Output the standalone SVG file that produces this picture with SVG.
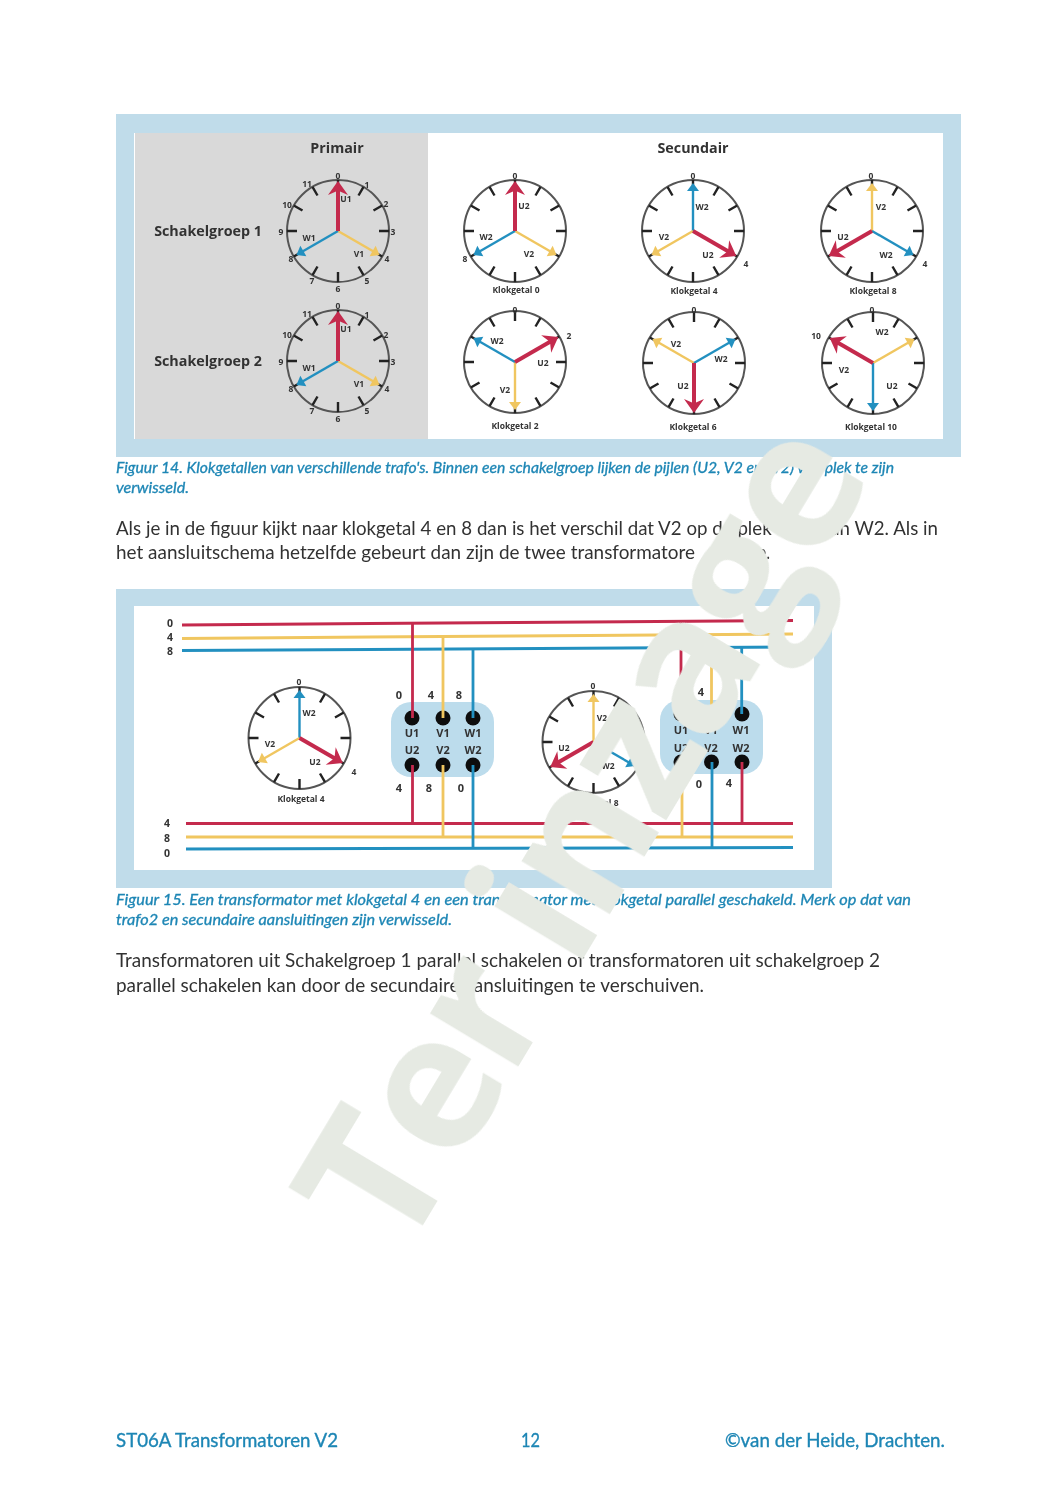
<svg xmlns="http://www.w3.org/2000/svg" width="1061" height="1500" viewBox="0 0 1061 1500">
<style>
text{font-family:"Open Sans","DejaVu Sans",sans-serif;fill:#333}
.s{font-size:8.5px;font-weight:700;text-anchor:middle;dominant-baseline:central}
.k{font-size:8.5px;font-weight:700;text-anchor:middle;dominant-baseline:central}
.h{font-size:14.3px;font-weight:700;text-anchor:middle;dominant-baseline:central}
.t{font-size:11px;font-weight:700;text-anchor:middle;dominant-baseline:central}
.l{font-size:10.5px;font-weight:700;text-anchor:middle;dominant-baseline:central}
.b{font-family:Lato,"Open Sans",sans-serif;font-size:19px;fill:#333}
.c{font-family:Lato,"Open Sans",sans-serif;font-size:15px;font-style:italic;fill:#1d86b5;stroke:#1d86b5;stroke-width:.3}
.f{font-family:Lato,"Open Sans",sans-serif;font-size:19px;fill:#1d86b5;stroke:#1d86b5;stroke-width:.35}
.wm{font-family:"Open Sans",sans-serif;font-weight:700;font-size:189px;letter-spacing:-5px;fill:#e6eae3}
.R{stroke:#c42a4d;fill:none}.Y{stroke:#f0c660;fill:none}.B{stroke:#2490c0;fill:none}
.w{stroke-width:3}.e{stroke-width:2.8}
.dot{fill:#111}
</style>
<defs>
<filter id="soft" x="-2%" y="-2%" width="104%" height="104%"><feGaussianBlur stdDeviation="0.75"/></filter>
<g id="face">
<circle r="51" fill="none" stroke="#555" stroke-width="2"/>
<path stroke="#222" stroke-width="2.4" d="M0-51V-41M25.500-44.200L20.500-35.500M44.200-25.500L35.500-20.500M51 0H41M44.200 25.500L35.500 20.500M25.500 44.200L20.500 35.500M0 51V41M-25.500 44.200L-20.500 35.500M-44.200 25.500L-35.500 20.500M-51 0H-41M-44.200-25.500L-35.500-20.500M-25.500-44.200L-20.500-35.500"/>
</g>
<g id="ra"><path d="M0 0V-42" stroke="#c42a4d" stroke-width="4"/><path d="M0-50L10-36L2-39.500H-2L-10-36Z" fill="#c42a4d"/></g>
<g id="ya"><path d="M0 0V-42" stroke="#f0c660" stroke-width="2.400"/><path d="M0-48L6-40H-6Z" fill="#f0c660"/></g>
<g id="ba"><path d="M0 0V-42" stroke="#2490c0" stroke-width="2.400"/><path d="M0-48L6-40H-6Z" fill="#2490c0"/></g>
</defs>

<g filter="url(#soft)">
<g id="figure14">
<rect x="116" y="114" width="845" height="343" fill="#c0dcea"/>
<rect x="134" y="133" width="809" height="306" fill="#fff"/>
<rect x="135" y="133" width="293" height="306" fill="#d9d9d9"/>
<text class="h" x="337" y="147">Primair</text>
<text class="h" x="693" y="147">Secundair</text>
<text class="h" x="208" y="230">Schakelgroep 1</text>
<text class="h" x="208" y="360">Schakelgroep 2</text>
</g>

<g id="prim1">
<use href="#face" transform="translate(338 231)"/>
<use href="#ya" transform="translate(338 231) rotate(120)"/><use href="#ba" transform="translate(338 231) rotate(240)"/><use href="#ra" transform="translate(338 231)"/>
<text class="s" x="346" y="198">U1</text><text class="s" x="309" y="237">W1</text><text class="s" x="359" y="253">V1</text>
<text class="s" x="338" y="175">0</text><text class="s" x="367" y="184">1</text><text class="s" x="386" y="203">2</text><text class="s" x="393" y="231">3</text><text class="s" x="387" y="258">4</text><text class="s" x="367" y="280">5</text><text class="s" x="338" y="288">6</text><text class="s" x="312" y="280">7</text><text class="s" x="291" y="258">8</text><text class="s" x="281" y="231">9</text><text class="s" x="287" y="204">10</text><text class="s" x="307" y="183">11</text>
</g>
<g id="prim2">
<use href="#face" transform="translate(338 361)"/>
<use href="#ya" transform="translate(338 361) rotate(120)"/><use href="#ba" transform="translate(338 361) rotate(240)"/><use href="#ra" transform="translate(338 361)"/>
<text class="s" x="346" y="328">U1</text><text class="s" x="309" y="367">W1</text><text class="s" x="359" y="383">V1</text>
<text class="s" x="338" y="305">0</text><text class="s" x="367" y="314">1</text><text class="s" x="386" y="334">2</text><text class="s" x="393" y="361">3</text><text class="s" x="387" y="388">4</text><text class="s" x="367" y="410">5</text><text class="s" x="338" y="418">6</text><text class="s" x="312" y="410">7</text><text class="s" x="291" y="388">8</text><text class="s" x="281" y="361">9</text><text class="s" x="287" y="334">10</text><text class="s" x="307" y="313">11</text>
</g>

<g id="klok0">
<use href="#face" transform="translate(515 231)"/>
<use href="#ya" transform="translate(515 231) rotate(120)"/><use href="#ba" transform="translate(515 231) rotate(240)"/><use href="#ra" transform="translate(515 231)"/>
<text class="s" x="524" y="205">U2</text><text class="s" x="486" y="236">W2</text><text class="s" x="529" y="253">V2</text>
<text class="s" x="515" y="175">0</text><text class="s" x="465" y="258">8</text><text class="k" x="516" y="289">Klokgetal 0</text>
</g>
<g id="klok4">
<use href="#face" transform="translate(693 231)"/>
<use href="#ba" transform="translate(693 231)"/><use href="#ya" transform="translate(693 231) rotate(240)"/><use href="#ra" transform="translate(693 231) rotate(120)"/>
<text class="s" x="702" y="206">W2</text><text class="s" x="664" y="236">V2</text><text class="s" x="708" y="254">U2</text>
<text class="s" x="693" y="175">0</text><text class="s" x="746" y="263">4</text><text class="k" x="694" y="290">Klokgetal 4</text>
</g>
<g id="klok8">
<use href="#face" transform="translate(872 231)"/>
<use href="#ya" transform="translate(872 231)"/><use href="#ba" transform="translate(872 231) rotate(120)"/><use href="#ra" transform="translate(872 231) rotate(240)"/>
<text class="s" x="881" y="206">V2</text><text class="s" x="843" y="236">U2</text><text class="s" x="886" y="254">W2</text>
<text class="s" x="871" y="175">0</text><text class="s" x="925" y="263">4</text><text class="k" x="873" y="290">Klokgetal 8</text>
</g>
<g id="klok2">
<use href="#face" transform="translate(515 362)"/>
<use href="#ya" transform="translate(515 362) rotate(180)"/><use href="#ba" transform="translate(515 362) rotate(300)"/><use href="#ra" transform="translate(515 362) rotate(60)"/>
<text class="s" x="497" y="340">W2</text><text class="s" x="543" y="362">U2</text><text class="s" x="505" y="389">V2</text>
<text class="s" x="515" y="309">0</text><text class="s" x="569" y="335">2</text><text class="k" x="515" y="425">Klokgetal 2</text>
</g>
<g id="klok6">
<use href="#face" transform="translate(694 363)"/>
<use href="#ya" transform="translate(694 363) rotate(300)"/><use href="#ba" transform="translate(694 363) rotate(60)"/><use href="#ra" transform="translate(694 363) rotate(180)"/>
<text class="s" x="676" y="343">V2</text><text class="s" x="721" y="358">W2</text><text class="s" x="683" y="385">U2</text>
<text class="s" x="694" y="309">0</text><text class="k" x="693" y="426">Klokgetal 6</text>
</g>
<g id="klok10">
<use href="#face" transform="translate(873 363)"/>
<use href="#ya" transform="translate(873 363) rotate(60)"/><use href="#ba" transform="translate(873 363) rotate(180)"/><use href="#ra" transform="translate(873 363) rotate(300)"/>
<text class="s" x="882" y="331">W2</text><text class="s" x="844" y="369">V2</text><text class="s" x="892" y="385">U2</text>
<text class="s" x="872" y="309">0</text><text class="s" x="816" y="335">10</text><text class="k" x="871" y="426">Klokgetal 10</text>
</g>

<g id="figure15">
<rect x="116" y="589" width="716" height="299" fill="#c0dcea"/>
<rect x="134" y="606" width="680" height="264" fill="#fff"/>
<text class="l" x="170" y="623">0</text><text class="l" x="170" y="637">4</text><text class="l" x="170" y="651">8</text>
<text class="l" x="167" y="823">4</text><text class="l" x="167" y="838">8</text><text class="l" x="167" y="853">0</text>
</g>

<g id="klemmen1">
<rect x="391" y="702" width="103" height="75" rx="20" fill="#bcdcec"/>
<circle class="dot" cx="412" cy="718" r="7.5"/><circle class="dot" cx="443" cy="718" r="7.5"/><circle class="dot" cx="473" cy="718" r="7.5"/>
<circle class="dot" cx="412" cy="765" r="7.5"/><circle class="dot" cx="443" cy="765" r="7.5"/><circle class="dot" cx="473" cy="765" r="7.5"/>
<text class="t" x="412" y="732">U1</text><text class="t" x="443" y="732">V1</text><text class="t" x="473" y="732">W1</text>
<text class="t" x="412" y="749">U2</text><text class="t" x="443" y="749">V2</text><text class="t" x="473" y="749">W2</text>
<text class="t" x="399" y="694">0</text><text class="t" x="431" y="694">4</text><text class="t" x="459" y="694">8</text>
<text class="t" x="399" y="787">4</text><text class="t" x="429" y="787">8</text><text class="t" x="461" y="787">0</text>
</g>
<g id="klemmen2">
<rect x="660" y="700" width="103" height="74" rx="20" fill="#bcdcec"/>
<circle class="dot" cx="681" cy="714" r="7.5"/><circle class="dot" cx="711.500" cy="714" r="7.5"/><circle class="dot" cx="742" cy="714" r="7.5"/>
<circle class="dot" cx="681" cy="762" r="7.5"/><circle class="dot" cx="711.500" cy="762" r="7.5"/><circle class="dot" cx="742" cy="762" r="7.5"/>
<text class="t" x="681" y="729">U1</text><text class="t" x="711" y="729">V1</text><text class="t" x="741" y="729">W1</text>
<text class="t" x="681" y="747">U2</text><text class="t" x="711" y="747">V2</text><text class="t" x="741" y="747">W2</text>
<text class="t" x="701" y="691">4</text><text class="t" x="730" y="692">8</text>
<text class="t" x="670" y="784">8</text><text class="t" x="699" y="783">0</text><text class="t" x="729" y="782">4</text>
</g>

<g id="connectors">
<path class="R w" d="M182 625L793 620.500"/><path class="Y w" d="M182 638.500L793 634"/><path class="B w" d="M182 650.500L793 647"/>
<path class="R w" d="M186 823.500H793"/><path class="Y w" d="M186 837H793"/><path class="B w" d="M186 849L793 847.500"/>
<path class="R e" d="M412.500 624V718M412.500 765V824"/><path class="Y e" d="M443 637V718M443 765V837"/><path class="B e" d="M473 648V718M473 765V848"/>
<path class="R e" d="M681 621V714"/><path class="Y e" d="M711.500 635V714M682 762V837"/><path class="B e" d="M741.700 647V714M712 762V847"/><path class="R e" d="M742 762V823"/>
</g>

<g id="klok4b">
<use href="#face" transform="translate(299.500 738)"/>
<use href="#ba" transform="translate(299.500 738)"/><use href="#ya" transform="translate(299.500 738) rotate(240)"/><use href="#ra" transform="translate(299.500 738) rotate(120)"/>
<text class="s" x="309" y="712">W2</text><text class="s" x="270" y="743">V2</text><text class="s" x="315" y="761">U2</text>
<text class="s" x="299" y="681">0</text><text class="s" x="354" y="771">4</text><text class="k" x="301" y="798">Klokgetal 4</text>
</g>
<g id="klok8b">
<use href="#face" transform="translate(593.500 742)"/>
<use href="#ya" transform="translate(593.500 742)"/><use href="#ba" transform="translate(593.500 742) rotate(120)"/><use href="#ra" transform="translate(593.500 742) rotate(240)"/>
<text class="s" x="602" y="717">V2</text><text class="s" x="564" y="747">U2</text><text class="s" x="608" y="765">W2</text>
<text class="s" x="593" y="685">0</text><text class="s" x="647" y="775">4</text><text class="k" x="595" y="802">Klokgetal 8</text>
</g>

<g id="tekst">
<text class="c" x="116" y="473" textLength="778" lengthAdjust="spacingAndGlyphs">Figuur 14. Klokgetallen van verschillende trafo's. Binnen een schakelgroep lijken de pijlen (U2, V2 en W2) van plek te zijn</text>
<text class="c" x="116" y="493" textLength="73" lengthAdjust="spacingAndGlyphs">verwisseld.</text>
<text class="b" x="116" y="535" textLength="822" lengthAdjust="spacingAndGlyphs">Als je in de figuur kijkt naar klokgetal 4 en 8 dan is het verschil dat V2 op de plek staat van W2. Als in</text>
<text class="b" x="116" y="559" textLength="579" lengthAdjust="spacingAndGlyphs">het aansluitschema hetzelfde gebeurt dan zijn de twee transformatore</text>
<text class="b" x="752" y="559" textLength="18" lengthAdjust="spacingAndGlyphs">te.</text>
<text class="c" x="116" y="905" textLength="795" lengthAdjust="spacingAndGlyphs">Figuur 15. Een transformator met klokgetal 4 en een transformator met klokgetal parallel geschakeld. Merk op dat van</text>
<text class="c" x="116" y="925" textLength="336" lengthAdjust="spacingAndGlyphs">trafo2 en secundaire aansluitingen zijn verwisseld.</text>
<text class="b" x="116" y="967" textLength="764" lengthAdjust="spacingAndGlyphs">Transformatoren uit Schakelgroep 1 parallel schakelen of transformatoren uit schakelgroep 2</text>
<text class="b" x="116" y="992" textLength="588" lengthAdjust="spacingAndGlyphs">parallel schakelen kan door de secundaire aansluitingen te verschuiven.</text>
<text class="f" x="116" y="1447" textLength="222" lengthAdjust="spacingAndGlyphs">ST06A Transformatoren V2</text>
<text class="f" x="521" y="1447" textLength="19" lengthAdjust="spacingAndGlyphs">12</text>
<text class="f" x="725" y="1447" textLength="220" lengthAdjust="spacingAndGlyphs">©van der Heide, Drachten.</text>
</g>
</g>
<text class="wm" transform="translate(402 1260) rotate(-59)">Ter inzage</text>
</svg>
